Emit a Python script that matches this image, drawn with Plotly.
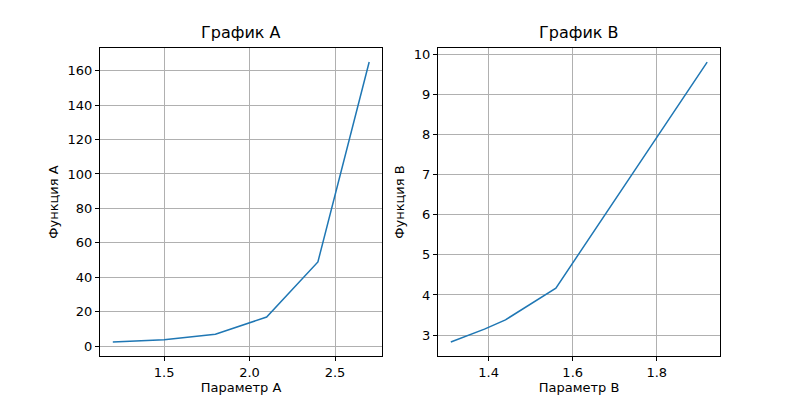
import plotly.graph_objects as go

# data
param_a = [1.2, 1.5, 1.8, 2.1, 2.4, 2.7]
func_a = [2.5, 3.8, 7.0, 17.0, 49.0, 165.0]

param_b = [1.31, 1.39, 1.44, 1.56, 1.92]
func_b = [2.83, 3.15, 3.38, 4.17, 9.8]

blue = "#1f77b4"
font = dict(family="DejaVu Sans", size=13, color="black")
title_font = dict(family="DejaVu Sans", size=16, color="black")

fig = go.Figure()
fig.add_trace(go.Scatter(x=param_a, y=func_a, mode="lines",
                         line=dict(color=blue, width=1.5), xaxis="x", yaxis="y"))
fig.add_trace(go.Scatter(x=param_b, y=func_b, mode="lines",
                         line=dict(color=blue, width=1.5), xaxis="x2", yaxis="y2"))

ax = dict(showline=True, linecolor="black", linewidth=1, mirror=True,
          showgrid=True, gridcolor="#b0b0b0", gridwidth=1, zeroline=False,
          ticks="outside", ticklen=4, tickcolor="black", tickfont=font,
          automargin=False)

# page body has an 8px margin, so domains are shifted up/left by 8px
fig.update_layout(
    width=800, height=400, margin=dict(l=0, r=0, t=0, b=0),
    paper_bgcolor="white", plot_bgcolor="white", showlegend=False, font=font,
    xaxis=dict(ax, domain=[0.115, 0.4675], range=[1.125, 2.775],
               tickvals=[1.5, 2.0, 2.5], ticktext=["1.5", "2.0", "2.5"],
               title=dict(text="Параметр A", font=font, standoff=4), anchor="y"),
    yaxis=dict(ax, domain=[0.13, 0.90], range=[-5.6, 173.1], dtick=20,
               title=dict(text="Функция A", font=font, standoff=6), anchor="x"),
    xaxis2=dict(ax, domain=[0.5375, 0.89], range=[1.2795, 1.9505],
                tickvals=[1.4, 1.6, 1.8], ticktext=["1.4", "1.6", "1.8"],
                title=dict(text="Параметр B", font=font, standoff=4), anchor="y2"),
    yaxis2=dict(ax, domain=[0.13, 0.90], range=[2.48, 10.15], dtick=1,
                title=dict(text="Функция B", font=font, standoff=6), anchor="x2"),
    annotations=[
        dict(text="График A", x=0.29125, y=0.90, xref="paper", yref="paper",
             xanchor="center", yanchor="bottom", yshift=4, showarrow=False,
             font=title_font),
        dict(text="График B", x=0.71375, y=0.90, xref="paper", yref="paper",
             xanchor="center", yanchor="bottom", yshift=4, showarrow=False,
             font=title_font),
    ],
)

fig.write_html("out.html")
